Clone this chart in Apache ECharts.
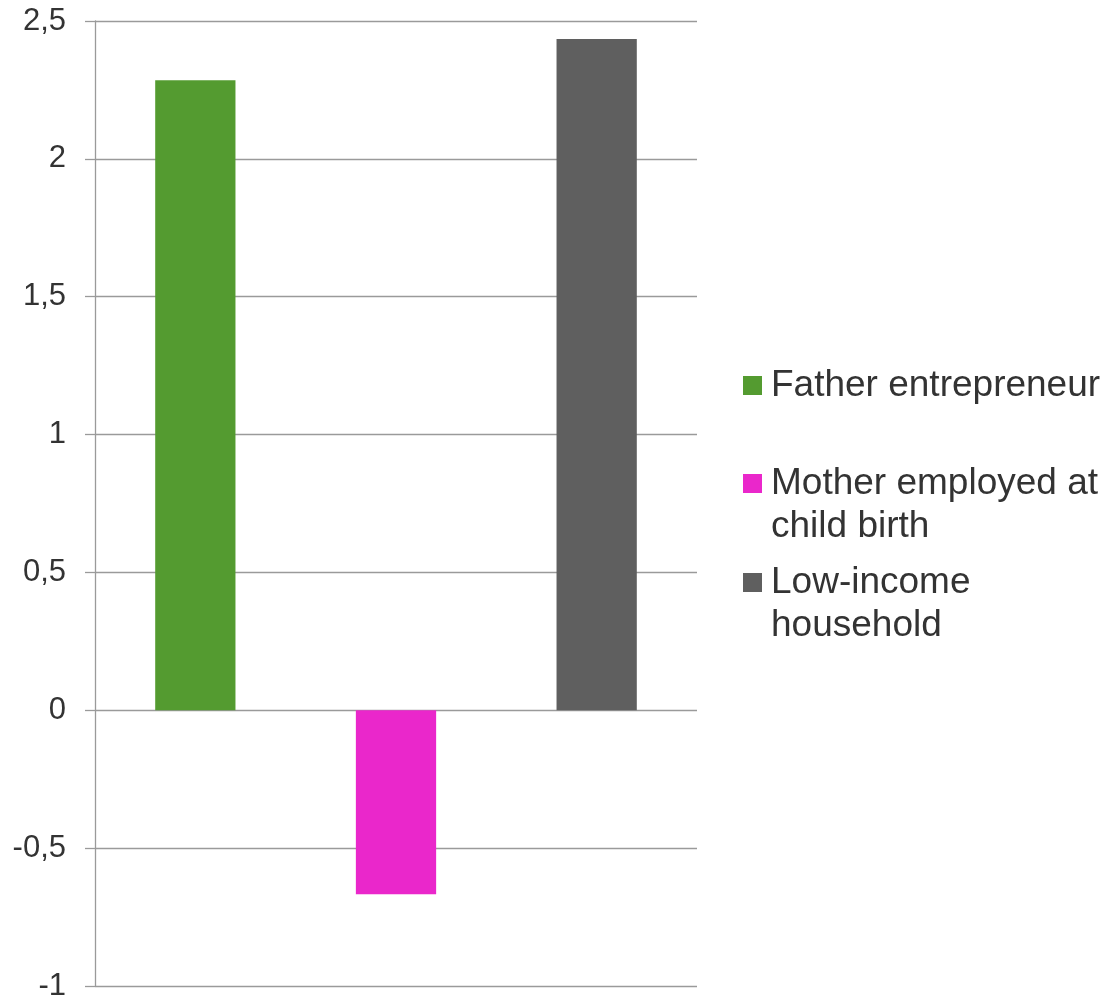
<!DOCTYPE html>
<html>
<head>
<meta charset="utf-8">
<title>Bar chart</title>
<script src="https://cdn.jsdelivr.net/npm/echarts@6/dist/echarts.min.js"></script>
<style>
  html, body { margin: 0; padding: 0; background: #ffffff; }
  #chart { width: 1106px; height: 996px; }
</style>
</head>
<body>
<div id="chart"></div>
<script>
// Data
const categories = [''];
const seriesNames = ['Father entrepreneur', 'Mother employed at child birth', 'Low-income household'];
const legendLines = [['Father entrepreneur'], ['Mother employed at', 'child birth'], ['Low-income', 'household']];
const fatherEntrepreneur = [2.285];
const motherEmployed = [-0.667];
const lowIncome = [2.435];
const yMin = -1;
const yMax = 2.5;
const yStep = 0.5;

const colors = ['#549b30', '#ea27cb', '#5f5f5f'];
const font = "'Liberation Sans', Arial, sans-serif";
const gridGray = '#9a9a9a';
const textColor = '#333333';

const chart = echarts.init(document.getElementById('chart'), null, { renderer: 'canvas' });

const seriesData = [fatherEntrepreneur, motherEmployed, lowIncome];
const legendTops = [364, 419, 518];

// Legend text: each line starts with a small gap token; wrapped entries get a
// blank lead line so the icon sits beside the first line
function legendText(lines) {
  const body = lines.map(l => '{g|}' + l).join('\n');
  return lines.length > 1 ? ' \n' + body : body;
}

const legends = seriesNames.map((name, i) => ({
  orient: 'vertical',
  left: 743,
  top: legendTops[i],
  padding: 0,
  itemWidth: 19,
  itemHeight: 19,
  icon: 'rect',
  selectedMode: false,
  data: [name],
  formatter: () => legendText(legendLines[i]),
  textStyle: {
    fontFamily: font,
    fontSize: 37,
    lineHeight: 43,
    color: textColor,
    rich: {
      g: { width: 4, fontSize: 37, lineHeight: 43 }
    }
  }
}));

chart.setOption({
  animation: false,
  backgroundColor: '#ffffff',
  color: colors,
  grid: { left: 95, top: 21, right: 409, bottom: 10, containLabel: false, outerBoundsMode: 'none' },
  legend: legends,
  xAxis: {
    type: 'category',
    data: categories,
    axisLine: { show: false },
    axisTick: { show: false },
    axisLabel: { show: false },
    splitLine: { show: false }
  },
  yAxis: {
    type: 'value',
    min: yMin,
    max: yMax,
    interval: yStep,
    axisLine: { show: true, lineStyle: { color: gridGray, width: 1.3 } },
    axisTick: { show: true, length: 10, lineStyle: { color: gridGray, width: 1.3 } },
    splitLine: { show: true, lineStyle: { color: gridGray, width: 1.3 } },
    axisLabel: {
      margin: 29,
      fontFamily: font,
      fontSize: 31,
      color: textColor,
      formatter: v => String(v).replace('.', ',')
    }
  },
  series: seriesNames.map((name, i) => ({
    name: name,
    type: 'bar',
    data: seriesData[i],
    barGap: '150%',
    barCategoryGap: '20%',
    itemStyle: { color: colors[i] }
  }))
});
</script>
</body>
</html>
